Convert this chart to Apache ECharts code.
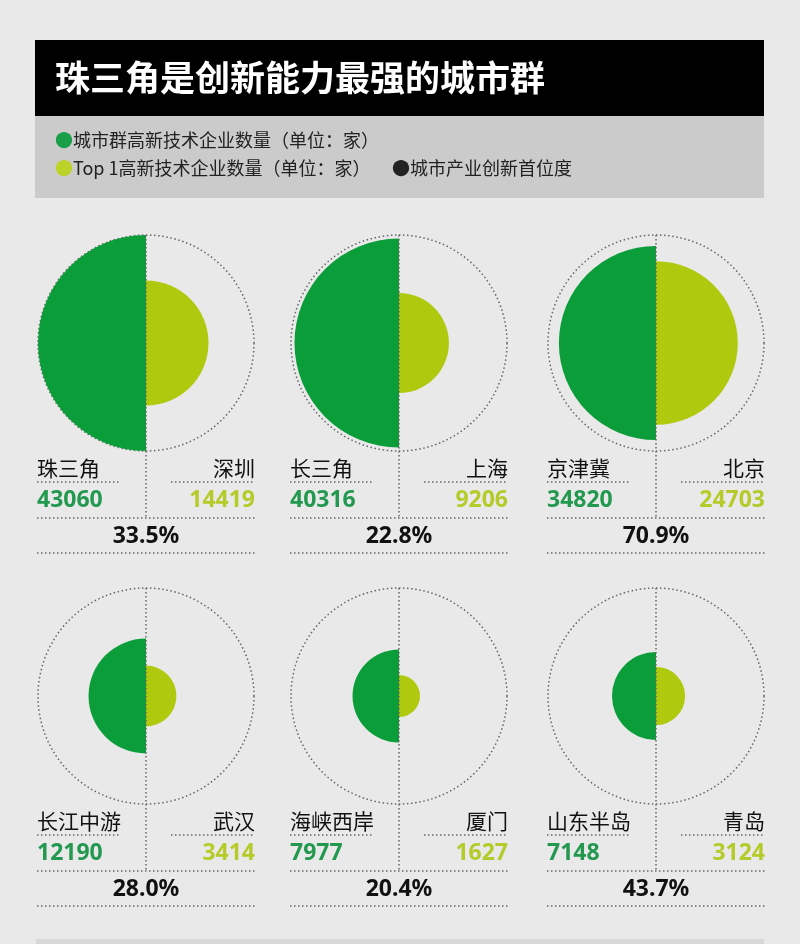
<!DOCTYPE html>
<html>
<head>
<meta charset="utf-8">
<script src="https://cdn.jsdelivr.net/npm/echarts@6/dist/echarts.min.js"></script>
<style>
html,body{margin:0;padding:0;background:#e9e9ea;}
#chart{width:800px;height:944px;}
</style>
</head>
<body>
<div id="chart"></div>
<script>
// ---- data ----
const clusters = ['珠三角', '长三角', '京津冀', '长江中游', '海峡西岸', '山东半岛'];
const clusterValues = [43060, 40316, 34820, 12190, 7977, 7148];
const topCities = ['深圳', '上海', '北京', '武汉', '厦门', '青岛'];
const topValues = [14419, 9206, 24703, 3414, 1627, 3124];
const primacy = [33.5, 22.8, 70.9, 28.0, 20.4, 43.7];
const titleText = '珠三角是创新能力最强的城市群';
const legendTexts = ['城市群高新技术企业数量（单位：家）', 'Top 1高新技术企业数量（单位：家）', '城市产业创新首位度'];

// ---- layout ----
const colX = [146, 399, 656];
const rowY = [343, 696];
const R = 108;
const HALF = 109;
const DARK = '#0c9d3b';
const LIGHT = '#afca0e';
const DARK_TXT = '#239950';
const LIGHT_TXT = '#b4cb2a';
const DOT = '#666666';
const FONT = '"Noto Sans CJK SC", "Noto Sans", sans-serif';
const NUMFONT = '"Noto Sans", "Open Sans", sans-serif';

const maxR = Math.sqrt(Math.max(...clusterValues));

const polar = [], angleAxis = [], radiusAxis = [], series = [];
const elements = [];

// header
elements.push({type:'rect', shape:{x:35,y:40,width:729,height:76}, style:{fill:'#000'}, z:1});
elements.push({type:'rect', shape:{x:35,y:116,width:729,height:82}, style:{fill:'#cbcbcb'}, z:1});
elements.push({type:'text', style:{x:55,y:78,text:titleText,fill:'#fff',fontSize:35,fontWeight:'bold',fontFamily:FONT,verticalAlign:'middle'}, z:2});
elements.push({type:'text', style:{x:55,y:140,text:'{g|●}'+legendTexts[0],fill:'#222',fontSize:18,fontFamily:FONT,verticalAlign:'middle',
  rich:{g:{fill:'#1a9e48',fontSize:18,fontFamily:FONT}}}, z:2});
elements.push({type:'text', style:{x:55,y:168,text:'{y|●}'+legendTexts[1],fill:'#222',fontSize:18,fontFamily:FONT,verticalAlign:'middle',
  rich:{y:{fill:'#bcd228',fontSize:18,fontFamily:FONT}}}, z:2});
elements.push({type:'text', style:{x:392,y:168,text:'●'+legendTexts[2],fill:'#222',fontSize:18,fontFamily:FONT,verticalAlign:'middle'}, z:2});
// bottom bar
elements.push({type:'rect', shape:{x:36,y:939,width:728,height:5}, style:{fill:'#d8d8d8'}, z:1});

function dotted(x1,y1,x2,y2){
  elements.push({type:'line', shape:{x1,y1,x2,y2}, style:{stroke:DOT,lineWidth:1.5,lineDash:[1.5,2.5]}, z:5});
}

clusters.forEach((name, i) => {
  const cx = colX[i % 3], cy = rowY[Math.floor(i / 3)];
  polar.push({center:[cx, cy], radius: R});
  angleAxis.push({
    polarIndex:i, type:'category', data:['top1','cluster'], startAngle:90, clockwise:true,
    axisLine:{show:true, lineStyle:{color:DOT, width:1.5, type:[1.5,2.6]}},
    axisTick:{show:false}, axisLabel:{show:false}, splitLine:{show:false}
  });
  radiusAxis.push({
    polarIndex:i, type:'value', min:0, max:maxR,
    axisLine:{show:false}, axisTick:{show:false}, axisLabel:{show:false}, splitLine:{show:false}
  });
  series.push({
    type:'bar', coordinateSystem:'polar', polarIndex:i, barCategoryGap:'0%',
    silent:true,
    data:[
      {value:Math.sqrt(topValues[i]), itemStyle:{color:LIGHT}},
      {value:Math.sqrt(clusterValues[i]), itemStyle:{color:DARK}}
    ]
  });

  const L = cx - HALF, Rx = cx + HALF;
  dotted(cx, cy - R, cx, cy + 176);
  dotted(L, cy + 139, cx - 27, cy + 139);
  dotted(cx + 25, cy + 139, Rx, cy + 139);
  dotted(L, cy + 175, Rx, cy + 175);
  dotted(L, cy + 210, Rx, cy + 210);

  elements.push({type:'text', style:{x:L, y:cy+125, text:name, fill:'#111', fontSize:21, fontFamily:FONT, align:'left', verticalAlign:'middle'}, z:6});
  elements.push({type:'text', style:{x:Rx, y:cy+125, text:topCities[i], fill:'#111', fontSize:21, fontFamily:FONT, align:'right', verticalAlign:'middle'}, z:6});
  elements.push({type:'text', style:{x:L, y:cy+157, text:String(clusterValues[i]), fill:DARK_TXT, fontSize:23, fontWeight:'bold', fontFamily:NUMFONT, align:'left', verticalAlign:'middle'}, z:6});
  elements.push({type:'text', style:{x:Rx, y:cy+157, text:String(topValues[i]), fill:LIGHT_TXT, fontSize:23, fontWeight:'bold', fontFamily:NUMFONT, align:'right', verticalAlign:'middle'}, z:6});
  elements.push({type:'text', style:{x:cx, y:cy+193, text:primacy[i].toFixed(1)+'%', fill:'#111', fontSize:23, fontWeight:'bold', fontFamily:NUMFONT, align:'center', verticalAlign:'middle'}, z:6});
});

const chart = echarts.init(document.getElementById('chart'), null, {renderer:'canvas'});
chart.setOption({
  backgroundColor:'#e9e9ea',
  animation:false,
  polar, angleAxis, radiusAxis, series,
  graphic:{elements}
});
</script>
</body>
</html>
